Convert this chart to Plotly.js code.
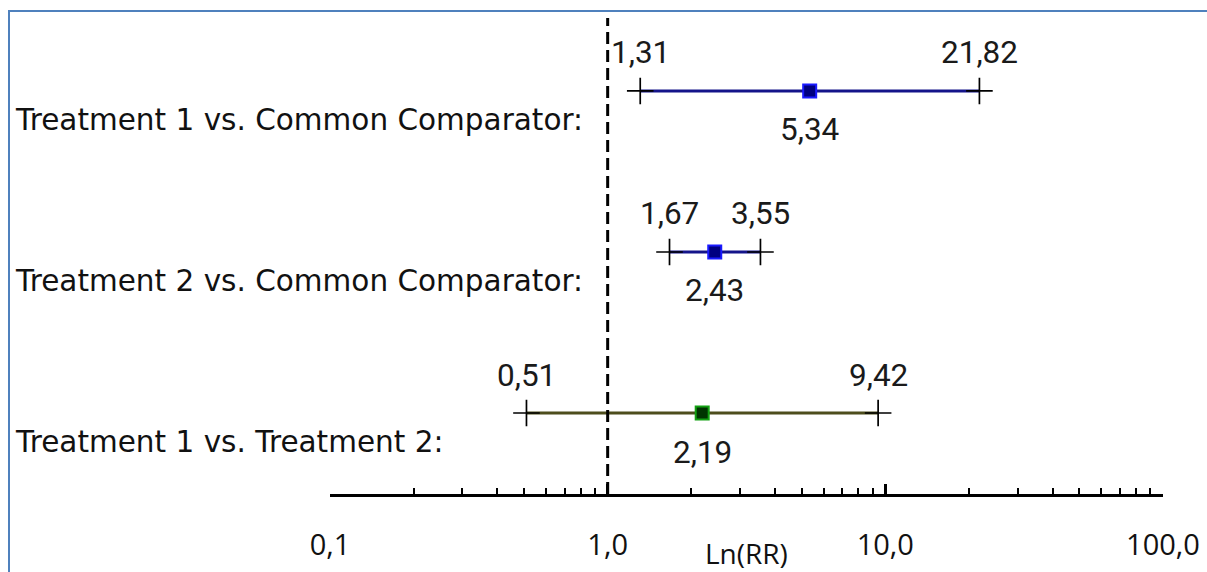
<!DOCTYPE html>
<html>
<head>
<meta charset="utf-8">
<script src="https://cdn.plot.ly/plotly-3.0.1.min.js"></script>
<style>
  html, body { margin: 0; padding: 0; background: #fff; }
  #frame { position: absolute; left: 8px; top: 10px; width: 1300px; height: 700px;
           border-left: 2.5px solid #4f81bd; border-top: 2.5px solid #4f81bd; }
  #chart { position: absolute; left: 0; top: 0; width: 1207px; height: 572px; }
</style>
</head>
<body>
<div id="frame"></div>
<div id="chart"></div>
<script>
// ---- data ----
const comparisons = ["Treatment 1 vs. Common Comparator:", "Treatment 2 vs. Common Comparator:", "Treatment 1 vs. Treatment 2:"];
const estimates = [5.34, 2.43, 2.19];
const lowerCI = [1.31, 1.67, 0.51];
const upperCI = [21.82, 3.55, 9.42];
const estLabels = ["5,34", "2,43", "2,19"];
const lowLabels = ["1,31", "1,67", "0,51"];
const upLabels = ["21,82", "3,55", "9,42"];
const tickValues = [0.1, 1, 10, 100];
const tickLabels = ["0,1", "1,0", "10,0", "100,0"];
const axisTitle = "Ln(RR)";
const referenceValue = 1;

// ---- styles ----
const lineColors = ["#14148a", "#14148a", "#4d4d1c"];
const markerFill = ["#000080", "#000080", "#003300"];
const markerEdge = ["#1a1aff", "#1a1aff", "#12a012"];

const n = comparisons.length;
const rowY = comparisons.map((_, i) => n - 1 - i);

const traces = [];
const annotations = [];
for (let i = 0; i < n; i++) {
  traces.push({
    x: [lowerCI[i], upperCI[i]], y: [rowY[i], rowY[i]],
    mode: "lines", line: {color: lineColors[i], width: 3},
    hoverinfo: "skip", showlegend: false
  });
  traces.push({
    x: [lowerCI[i], upperCI[i]], y: [rowY[i], rowY[i]],
    mode: "markers",
    marker: {symbol: "cross-thin", size: 19, line: {color: "#000", width: 1.7}},
    hoverinfo: "skip", showlegend: false
  });
  traces.push({
    x: [estimates[i]], y: [rowY[i]],
    mode: "markers",
    marker: {symbol: "square", size: 13, color: markerFill[i], line: {color: markerEdge[i], width: 2}},
    hoverinfo: "skip", showlegend: false
  });
  const vf = {family: "Roboto, sans-serif", size: 31.5, color: "#1a1a1a"};
  annotations.push({x: Math.log10(lowerCI[i]), y: rowY[i], xref: "x", yref: "y", text: lowLabels[i],
    showarrow: false, yshift: 38, font: vf});
  annotations.push({x: Math.log10(upperCI[i]), y: rowY[i], xref: "x", yref: "y", text: upLabels[i],
    showarrow: false, yshift: 38, font: vf});
  annotations.push({x: Math.log10(estimates[i]), y: rowY[i], xref: "x", yref: "y", text: estLabels[i],
    showarrow: false, yshift: -39, font: vf});
  annotations.push({x: (13 - 330) / 833, y: rowY[i], xref: "paper", yref: "y", text: comparisons[i],
    xanchor: "left", showarrow: false, yshift: -29,
    font: {family: "DejaVu Sans, sans-serif", size: 29.5, color: "#111"}});
}
// axis title
annotations.push({x: 0.5, y: 0, xref: "paper", yref: "paper", text: axisTitle, showarrow: false,
  yanchor: "middle", yshift: -59, borderpad: 0,
  font: {family: "Open Sans, sans-serif", size: 28, color: "#111"}});

const layout = {
  width: 1207, height: 572,
  margin: {l: 330, r: 44, t: 0, b: 78},
  paper_bgcolor: "rgba(0,0,0,0)", plot_bgcolor: "rgba(0,0,0,0)",
  showlegend: false,
  xaxis: {
    type: "log", range: [-1, 2], showgrid: false, zeroline: false,
    showline: true, linecolor: "#000", linewidth: 3,
    tickmode: "array", tickvals: tickValues, ticktext: tickLabels,
    ticks: "inside", ticklen: 10, tickwidth: 2.5, tickcolor: "#000",
    ticklabelstandoff: 23,
    tickfont: {family: "Open Sans, sans-serif", size: 29, color: "#111"},
    minor: {ticks: "inside", ticklen: 6, tickwidth: 2, tickcolor: "#000", dtick: "D1", showgrid: false},
    fixedrange: true
  },
  yaxis: {
    range: [-0.503, 2.565], visible: false, showgrid: false, zeroline: false, fixedrange: true
  },
  shapes: [{
    type: "line", xref: "x", yref: "paper", x0: referenceValue, x1: referenceValue,
    y0: 0, y1: (494 - 18) / 494, line: {color: "#000", width: 3, dash: "12px,6px"}
  }],
  annotations: annotations
};

Plotly.newPlot("chart", traces, layout, {displayModeBar: false, staticPlot: true});
</script>
</body>
</html>
